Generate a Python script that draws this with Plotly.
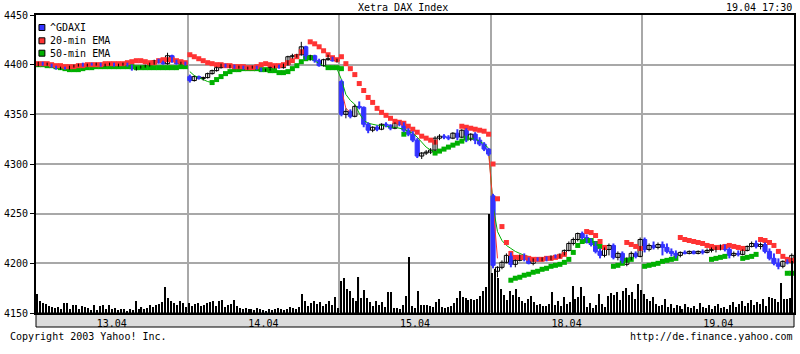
import plotly.graph_objects as go

# ---------------- data ----------------
days = ["13.04", "14.04", "15.04", "18.04", "19.04"]
session_minutes = 510          # 09:00 - 17:30
slots_per_day = 34             # 15-minute candles
vol_per_day = 51               # 10-minute volume bars

open_px = [
    4400,4402,4400,4401,4398,4396,4397,4396,4398,4399,4400,4399,4401,4400,4401,4399,4400,4401,4399,4400,4401,4399,4396,4397,4398,4399,4401,4404,4402,4401,4409,4403,4401,4402,
    4388,4384,4388,4386,4387,4391,4394,4397,4400,4398,4399,4397,4398,4396,4397,4398,4396,4394,4395,4397,4398,4397,4400,4408,4409,4410,4418,4406,4409,4404,4399,4405,4406,4404,
    4383,4350,4353,4348,4358,4357,4340,4334,4337,4335,4340,4339,4336,4341,4340,4334,4330,4324,4308,4311,4312,4314,4326,4328,4327,4326,4331,4327,4334,4325,4330,4324,4320,4315,
    4268,4192,4196,4201,4208,4199,4203,4207,4204,4200,4204,4203,4205,4204,4207,4206,4209,4213,4220,4224,4230,4226,4222,4219,4212,4208,4214,4218,4206,4210,4199,4205,4210,4207,
    4224,4214,4218,4216,4219,4216,4212,4210,4208,4211,4210,4212,4210,4212,4211,4213,4214,4215,4218,4214,4208,4210,4209,4213,4217,4220,4217,4219,4212,4205,4200,4197,4202,4201,
]
high_px = [
    4403,4403,4402,4401,4399,4398,4398,4399,4400,4401,4402,4401,4402,4402,4402,4401,4402,4402,4401,4402,4402,4400,4398,4399,4400,4402,4405,4406,4404,4412,4410,4405,4403,4403,
    4390,4389,4389,4388,4392,4395,4398,4401,4401,4400,4400,4399,4399,4398,4399,4399,4397,4396,4398,4399,4400,4401,4409,4411,4411,4423,4419,4410,4410,4406,4406,4410,4408,4406,
    4385,4356,4355,4360,4363,4358,4342,4338,4339,4341,4342,4340,4342,4343,4342,4336,4333,4326,4312,4314,4316,4328,4330,4330,4329,4332,4335,4335,4336,4331,4332,4327,4322,4316,
    4270,4197,4203,4210,4211,4204,4209,4210,4206,4205,4206,4206,4207,4208,4209,4210,4214,4222,4226,4231,4232,4229,4225,4222,4215,4216,4220,4220,4212,4212,4206,4212,4212,4226,
    4226,4220,4222,4221,4222,4220,4215,4213,4212,4213,4213,4213,4213,4214,4215,4216,4217,4219,4219,4216,4212,4213,4214,4218,4222,4223,4221,4221,4215,4210,4205,4203,4204,4210,
]
low_px = [
    4398,4399,4399,4397,4395,4395,4395,4395,4397,4398,4398,4398,4399,4399,4398,4398,4399,4398,4398,4399,4398,4394,4394,4396,4397,4398,4400,4401,4400,4400,4402,4400,4400,4399,
    4382,4383,4385,4384,4386,4390,4393,4396,4397,4396,4396,4396,4395,4395,4396,4395,4393,4393,4394,4396,4396,4396,4399,4406,4407,4409,4405,4404,4402,4398,4398,4404,4403,4402,
    4348,4346,4346,4347,4355,4337,4331,4332,4333,4334,4337,4334,4335,4338,4332,4328,4322,4306,4305,4309,4310,4313,4324,4325,4324,4325,4324,4326,4322,4323,4320,4318,4313,4308,
    4195,4186,4194,4200,4196,4196,4202,4202,4199,4198,4202,4202,4202,4203,4205,4205,4208,4212,4218,4222,4224,4220,4217,4210,4205,4206,4208,4204,4203,4200,4197,4203,4205,4206,
    4211,4212,4214,4214,4208,4210,4207,4205,4206,4209,4209,4209,4209,4209,4210,4211,4211,4213,4212,4205,4206,4207,4208,4212,4216,4215,4214,4210,4203,4198,4194,4195,4199,4200,
]
close_px = [
    4402,4400,4401,4398,4396,4397,4396,4398,4399,4400,4399,4401,4400,4401,4399,4400,4401,4399,4400,4401,4399,4396,4397,4398,4399,4401,4404,4402,4401,4409,4403,4401,4402,4400,
    4384,4388,4386,4387,4391,4394,4397,4400,4398,4399,4397,4398,4396,4397,4398,4396,4394,4395,4397,4398,4397,4400,4408,4409,4410,4418,4406,4409,4404,4399,4405,4406,4404,4405,
    4350,4353,4348,4358,4357,4340,4334,4337,4335,4340,4339,4336,4341,4340,4334,4330,4324,4308,4311,4312,4314,4326,4328,4327,4326,4331,4327,4334,4325,4330,4324,4320,4315,4310,
    4198,4196,4201,4208,4199,4203,4207,4204,4200,4204,4203,4205,4204,4207,4206,4209,4213,4220,4224,4230,4226,4222,4219,4212,4208,4214,4218,4206,4210,4202,4205,4210,4207,4224,
    4214,4218,4216,4219,4216,4212,4210,4208,4211,4210,4212,4210,4212,4211,4213,4214,4215,4218,4214,4208,4210,4209,4213,4217,4220,4217,4219,4212,4205,4200,4197,4202,4201,4208,
]

N = None
ema20 = [
    4401,4401,4401,4400,4399,4399,4398,4398,4398,4399,4399,4400,4400,4400,4400,4401,4401,4401,4401,4401,4402,4403,4404,4404,4403,4402,4402,4404,4405,4405,4405,4404,4403,4402,
    4410,4408,4406,4404,4402,4401,4400,4400,4399,4399,4398,4398,4398,4397,4397,4398,4400,4401,4400,4399,4399,4400,4402,4404,4408,4413,N,4423,4421,4418,4414,4410,4407,4405,
    4408,4401,4396,4390,4381,4374,4367,4362,4356,4352,4349,4346,4343,4342,4341,4338,4335,4332,4328,4326,4324,4322,N,N,N,N,N,4338,4337,4336,4335,4334,4333,4330,
    4300,4265,4237,4221,4210,4206,4206,4206,4205,4204,4204,4204,4205,4205,4206,4207,4209,N,N,N,N,4232,4231,4228,4222,4216,N,N,N,N,4221,4219,4217,4215,
    N,N,N,N,N,N,N,N,4226,4224,4223,4222,4221,4220,4218,4217,4216,4216,4217,4218,4217,4216,4215,N,N,N,4224,4223,4221,4218,4212,4207,4204,4203,
]
ema50 = [
    4400,4400,4399,4399,4398,4397,4396,4395,4395,4395,4396,4397,4397,4398,4398,4398,4398,4398,4398,4398,4398,4398,4397,4397,4397,4397,4397,4397,4397,4397,4397,4397,4398,4398,
    N,N,N,N,N,4382,4385,4388,4391,4393,4395,4395,4396,4396,4396,4396,4395,4395,4394,4394,4392,4392,4393,4396,4399,4403,4406,4407,N,N,N,4397,4397,4397,
    4396,N,N,N,N,N,N,N,N,N,N,N,N,N,4330,N,N,N,N,N,N,4311,4313,4315,4317,4319,4321,4323,4326,N,N,N,N,N,
    N,N,N,N,4183,4185,4186,4188,4189,4191,4192,4194,4195,4197,4198,4199,4201,4204,4211,4218,4222,4223,4223,4220,4217,N,N,4197,4198,4200,4203,4204,N,N,
    4197,4198,4199,4200,4202,4203,4204,4205,N,N,N,N,N,N,N,4204,4205,4206,4207,N,N,N,4205,4206,4207,4209,N,N,N,N,N,N,4190,4190,
]
ema20_fast = [
    *[N]*34,
    *[N]*34,
    4375,4356,4352,*[N]*30,4312,
    4255,4205,*[N]*32,
    *[N]*34,
]
ema50_fast = [
    *[N]*34,
    4393,4389,4387,4385,4383,4382,*[N]*21,4407,4404,4401,4399,4397,4397,4396,
    4385,4370,4364,4360,4351,4344,4341,4340,4339,4339,4338,4337,4337,4336,4335,4333,4331,4327,4322,4317,4314,4312,N,N,N,N,N,N,4326,4326,4325,4323,4320,4316,
    4258,4232,4223,4218,4215,4212,4210,4208,4207,*[N]*25,
    *[N]*34,
]

volume = [
    19,12,10,9,7,6,5,6,4,10,10,4,8,8,4,7,6,5,3,8,3,7,8,4,8,4,5,3,4,4,2,4,3,12,4,6,4,5,8,6,8,9,11,26,15,12,10,8,12,10,6,
    10,7,9,10,7,8,10,11,12,7,12,13,6,8,9,13,7,5,4,5,4,4,3,5,4,3,2,4,3,4,5,4,3,4,6,5,4,6,19,12,7,10,12,9,11,7,9,12,8,16,5,
    32,35,24,22,15,12,36,15,23,15,11,7,12,8,11,6,21,21,5,5,4,8,17,56,7,5,22,8,8,8,7,6,11,14,6,5,6,7,10,15,22,16,15,13,14,13,14,17,22,26,99,
    40,44,35,24,18,13,22,18,24,16,12,10,14,17,11,8,9,7,7,9,21,8,12,7,16,9,11,27,14,16,26,17,6,10,5,8,19,9,6,17,20,18,21,13,22,25,18,21,14,29,23,
    19,14,12,16,9,7,8,14,6,9,5,8,7,4,9,6,5,7,4,10,6,5,8,4,7,9,5,6,4,8,11,6,9,12,7,10,13,8,11,9,14,7,16,15,14,11,30,14,14,15,52,
]

y_ticks = [4150, 4200, 4250, 4300, 4350, 4400, 4450]

# ---------------- positions (session time in minutes) ----------------
t_candle = [d * session_minutes + 7.5 + 15 * k for d in range(len(days)) for k in range(slots_per_day)]
t_vol = [d * session_minutes + 5 + 10 * j for d in range(len(days)) for j in range(vol_per_day)]
x_max = session_minutes * len(days)

BLUE = "#3333ff"
RED = "#ff3333"
GREEN = "#00b000"
FONT = "DejaVu Sans Mono"

W, H = 800, 354
L, R, T, B = 28, 4, 15, 27
plot_h = H - T - B
strip = 14
dom0 = strip / plot_h


def pxx(x):
    return (x - L) / (W - L - R)


def pyy(y):
    return (H - B - y) / plot_h


# split candles into rising (white) and falling (blue)
def candle_parts(rising):
    xs, base, height, wx, wy = [], [], [], [], []
    for t, o, h, l, c in zip(t_candle, open_px, high_px, low_px, close_px):
        if (c >= o) != rising:
            continue
        xs.append(t)
        base.append(min(o, c))
        height.append(max(abs(c - o), 0.6))
        wx += [t, t, None]
        wy += [l, h, None]
    return xs, base, height, wx, wy


fig = go.Figure()

fig.add_trace(go.Scatter(x=t_candle, y=ema50_fast, mode="lines",
                         line=dict(color=GREEN, width=1), connectgaps=False, hoverinfo="skip"))
fig.add_trace(go.Scatter(x=t_candle, y=ema20_fast, mode="lines",
                         line=dict(color=RED, width=1), connectgaps=False, hoverinfo="skip"))
fig.add_trace(go.Scatter(x=t_candle, y=ema50, mode="markers",
                         marker=dict(symbol="square", size=5, color=GREEN, line=dict(width=0))))
fig.add_trace(go.Scatter(x=t_candle, y=ema20, mode="markers",
                         marker=dict(symbol="square", size=5, color=RED, line=dict(width=0))))

for rising, fill, edge in [(False, BLUE, BLUE), (True, "white", "black")]:
    xs, base, height, wx, wy = candle_parts(rising)
    fig.add_trace(go.Scatter(x=wx, y=wy, mode="lines",
                             line=dict(color=edge, width=1 if rising else 2),
                             hoverinfo="skip"))
    fig.add_trace(go.Bar(x=xs, y=height, base=base, width=14,
                         marker=dict(color=fill, line=dict(color=edge, width=1))))

fig.add_trace(go.Bar(x=t_vol, y=volume, yaxis="y2", width=3.6,
                     marker=dict(color="black", line=dict(width=0))))

mid = [(d + 0.5) * session_minutes for d in range(len(days))]
bounds = [d * session_minutes for d in range(1, len(days))]

fig.update_layout(
    width=W, height=H,
    margin=dict(l=L, r=R, t=T, b=B, pad=0),
    paper_bgcolor="white", plot_bgcolor="white",
    showlegend=False,
    barmode="overlay",
    font=dict(family=FONT, size=10, color="black"),
    xaxis=dict(
        range=[0, x_max], domain=[0, 1], anchor="y",
        tickmode="array", tickvals=mid, ticktext=days, ticks="",
        showgrid=False, zeroline=False,
        showline=True, linecolor="black", linewidth=2, mirror=True,
        tickfont=dict(family=FONT, size=10, color="black"),
        minor=dict(tickmode="array", tickvals=bounds, showgrid=True,
                   gridcolor="#a8a8a8", gridwidth=2, ticks=""),
    ),
    yaxis=dict(
        range=[4150, 4450], domain=[dom0, 1],
        tickmode="array", tickvals=y_ticks, ticks="outside", ticklen=4,
        tickcolor="black", showgrid=True, gridcolor="#a8a8a8", gridwidth=2,
        zeroline=False, showline=True, linecolor="black", linewidth=2, mirror=True,
        tickfont=dict(family=FONT, size=10, color="black"),
    ),
    yaxis2=dict(range=[0, 298], overlaying="y", visible=False, showgrid=False),
)

shapes = [
    dict(type="rect", xref="paper", yref="paper", x0=0, x1=1, y0=0, y1=dom0,
         fillcolor="#dcdcdc", line=dict(color="black", width=1), layer="below"),
]
legend_items = [("^GDAXI", BLUE, 27.5), ("20-min EMA", RED, 40.8), ("50-min EMA", GREEN, 53.2)]
annotations = []
for label, col, yc in legend_items:
    shapes.append(dict(type="rect", xref="paper", yref="paper",
                       x0=pxx(31), x1=pxx(37), y0=pyy(yc + 3), y1=pyy(yc - 3),
                       fillcolor=col, line=dict(color="black", width=1)))
    annotations.append(dict(xref="paper", yref="paper", x=pxx(40), y=pyy(yc),
                            text=label, showarrow=False, xanchor="left", yanchor="middle",
                            font=dict(family=FONT, size=10, color="black")))

annotations += [
    dict(xref="paper", yref="paper", x=pxx(400), y=pyy(7), text="Xetra DAX Index",
         showarrow=False, xanchor="center", yanchor="middle"),
    dict(xref="paper", yref="paper", x=pxx(796), y=pyy(7), text="19.04 17:30",
         showarrow=False, xanchor="right", yanchor="middle"),
    dict(xref="paper", yref="paper", x=pxx(0), y=pyy(337), text="Copyright 2003 Yahoo! Inc.",
         showarrow=False, xanchor="left", yanchor="middle"),
    dict(xref="paper", yref="paper", x=pxx(797), y=pyy(337), text="http://de.finance.yahoo.com",
         showarrow=False, xanchor="right", yanchor="middle"),
]
fig.update_layout(shapes=shapes, annotations=annotations)

fig.write_html("out.html", config={"displayModeBar": False})
